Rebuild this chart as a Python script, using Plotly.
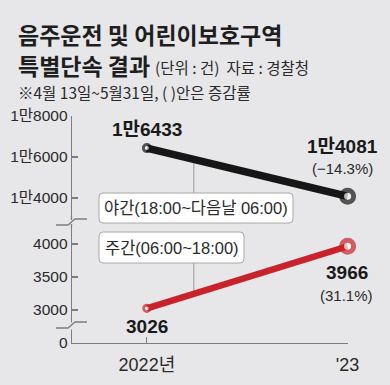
import plotly.graph_objects as go

# ---------------- data ----------------
years = [2022, 2023]
year_labels = ["2022년", "'23"]
night_values = [16433, 14081]          # 야간
day_values = [3026, 3966]              # 주간
night_labels = ["1만6433", "1만4081"]
day_labels = ["3026", "3966"]
night_change = "(−14.3%)"
day_change = "(31.1%)"
upper_ticks = [14000, 16000, 18000]
upper_ticktext = ["1만4000", "1만6000", "1만8000"]
lower_ticks = [2500, 3000, 3500, 4000]      # 2500 slot shows the broken-axis "0"
lower_ticktext = ["0", "3000", "3500", "4000"]

# ---------------- layout helpers ----------------
W, H = 390, 385
L, R, T, B = 72, 348, 100, 343
PW, PH = R - L, B - T
BG = "#e7e7e9"
AX = "#7d7d7d"
BLACK = "#161616"
RED = "#c8232b"
TXT = "#2a2a2a"
NUM = "Liberation Sans, Arial, Noto Sans CJK KR, sans-serif"
KR = "Noto Sans CJK KR, sans-serif"


def px(x):
    return (x - L) / PW


def py(y):
    return (B - y) / PH


up_dom = [py(216), py(116)]
up_rng = [18000 - (216 - 116) / 0.0205, 18000]
lo_dom = [0, py(227)]
lo_rng = [2500, 2500 + (343 - 227) / 0.066]

x_rng = [2022 - (147 - L) / (348 - 147), 2023.002]

fig = go.Figure()
fig.add_trace(go.Scatter(
    x=years, y=night_values, yaxis="y2", mode="lines+markers",
    line=dict(color=BLACK, width=7.5),
    marker=dict(size=[7, 12], color="white", line=dict(color=BLACK, width=[3, 5])),
    hoverinfo="skip", cliponaxis=False))
fig.add_trace(go.Scatter(
    x=years, y=day_values, yaxis="y", mode="lines+markers",
    line=dict(color=RED, width=6.5),
    marker=dict(size=[6.5, 12], color="white", line=dict(color=RED, width=[2.8, 5])),
    hoverinfo="skip", cliponaxis=False))

ann = []
# titles
ann.append(dict(xref="paper", yref="paper", x=px(16), y=py(34), xanchor="left", yanchor="middle",
                text="<b>음주운전 및 어린이보호구역</b>", showarrow=False,
                font=dict(family=KR, size=23, color="#1e1e1e", weight=900)))
ann.append(dict(xref="paper", yref="paper", x=px(16), y=py(65), xanchor="left", yanchor="middle",
                text="<b>특별단속 결과</b>", showarrow=False,
                font=dict(family=KR, size=23, color="#1e1e1e", weight=900)))
ann.append(dict(xref="paper", yref="paper", x=px(153), y=py(67), xanchor="left", yanchor="middle",
                text="(단위 : 건)  자료 : 경찰청", showarrow=False,
                font=dict(family=KR, size=15.5, color=TXT)))
ann.append(dict(xref="paper", yref="paper", x=px(16), y=py(92), xanchor="left", yanchor="middle",
                text="※4월 13일~5월31일, ( )안은 증감률", showarrow=False,
                font=dict(family=KR, size=15.5, color=TXT)))

# value labels
ann.append(dict(xref="x", yref="y2", x=years[0], y=night_values[0], yshift=19, xanchor="center",
                yanchor="middle", text="<b>" + night_labels[0] + "</b>", showarrow=False,
                font=dict(family=NUM, size=19, color="#1a1a1a")))
ann.append(dict(xref="x", yref="y2", x=years[1], y=night_values[1], yshift=50, xshift=-5,
                xanchor="center", yanchor="middle", text="<b>" + night_labels[1] + "</b>",
                showarrow=False, font=dict(family=NUM, size=19, color="#1a1a1a")))
ann.append(dict(xref="x", yref="y2", x=years[1], y=night_values[1], yshift=28, xshift=-5,
                xanchor="center", yanchor="middle", text=night_change,
                showarrow=False, font=dict(family=NUM, size=15, color=TXT)))
ann.append(dict(xref="x", yref="y", x=years[0], y=day_values[0], yshift=-18, xanchor="center",
                yanchor="middle", text="<b>" + day_labels[0] + "</b>", showarrow=False,
                font=dict(family=NUM, size=19, color="#1a1a1a")))
ann.append(dict(xref="x", yref="y", x=years[1], y=day_values[1], yshift=-26, xshift=-1,
                xanchor="center", yanchor="middle", text="<b>" + day_labels[1] + "</b>",
                showarrow=False, font=dict(family=NUM, size=19, color="#1a1a1a")))
ann.append(dict(xref="x", yref="y", x=years[1], y=day_values[1], yshift=-49, xshift=-1,
                xanchor="center", yanchor="middle", text=day_change,
                showarrow=False, font=dict(family=NUM, size=15, color=TXT)))

# series label boxes
boxes = [
    (99, 293, 193, 223, "야간(18:00~다음날 06:00)"),
    (99, 244, 232, 263, "주간(06:00~18:00)"),
]
shapes = []
for x0, x1, y0, y1, label in boxes:
    r = 4
    ax0, ax1 = px(x0), px(x1)
    ay0, ay1 = py(y1), py(y0)  # bottom, top in paper
    rx, ry = r / PW, r / PH
    path = (f"M {ax0 + rx},{ay1} L {ax1 - rx},{ay1} Q {ax1},{ay1} {ax1},{ay1 - ry} "
            f"L {ax1},{ay0 + ry} Q {ax1},{ay0} {ax1 - rx},{ay0} "
            f"L {ax0 + rx},{ay0} Q {ax0},{ay0} {ax0},{ay0 + ry} "
            f"L {ax0},{ay1 - ry} Q {ax0},{ay1} {ax0 + rx},{ay1} Z")
    shapes.append(dict(type="path", xref="paper", yref="paper", path=path,
                       fillcolor="white", line=dict(color="#a8a8a8", width=1), layer="above"))
    ann.append(dict(xref="paper", yref="paper", x=(ax0 + ax1) / 2, y=(ay0 + ay1) / 2,
                    xanchor="center", yanchor="middle", text=label, showarrow=False,
                    font=dict(family=NUM, size=16.5, color=TXT)))

# connector lines from series to label boxes
cx = 2022 + (194 - 147) / (348 - 147)
frac = (cx - years[0]) / (years[1] - years[0])
night_at = night_values[0] + frac * (night_values[1] - night_values[0])
day_at = day_values[0] + frac * (day_values[1] - day_values[0])
shapes.append(dict(type="line", xref="x", yref="y2", x0=cx, x1=cx, y0=night_at,
                   y1=18000 - (193 - 116) / 0.0205, line=dict(color="#9a9a9a", width=1), layer="below"))
shapes.append(dict(type="line", xref="x", yref="y", x0=cx, x1=cx, y0=day_at,
                   y1=2500 + (343 - 263) / 0.066, line=dict(color="#9a9a9a", width=1), layer="below"))

# axis break marks
shapes.append(dict(type="rect", xref="paper", yref="paper", x0=px(68), x1=px(76),
                   y0=py(329.5), y1=py(322.5), fillcolor=BG, line=dict(width=0), layer="above"))
for y_lo, y_hi in [(225, 219), (328, 322)]:
    path = (f"M {px(56)},{py(y_lo)} L {px(68)},{py(y_lo)} L {px(75)},{py(y_hi)} "
            f"L {px(87)},{py(y_hi)}")
    shapes.append(dict(type="path", xref="paper", yref="paper", path=path,
                       line=dict(color=AX, width=1.3), layer="above"))
# join axis segments to break marks
shapes.append(dict(type="line", xref="paper", yref="paper", x0=px(71.5), x1=px(71.5),
                   y0=py(216), y1=py(220), line=dict(color=AX, width=1.3)))
shapes.append(dict(type="line", xref="paper", yref="paper", x0=px(71.5), x1=px(71.5),
                   y0=py(224), y1=py(227), line=dict(color=AX, width=1.3)))

axis_common = dict(showgrid=False, zeroline=False, showline=True, linecolor=AX, linewidth=1.3,
                   ticks="inside", ticklen=6, tickwidth=1.2, tickcolor=AX, fixedrange=True,
                   automargin=False)

fig.update_layout(
    width=W, height=H,
    margin=dict(l=L, r=W - R, t=T, b=H - B, autoexpand=False),
    paper_bgcolor=BG, plot_bgcolor=BG,
    showlegend=False,
    xaxis=dict(range=x_rng, tickvals=years, ticktext=year_labels, anchor="y",
               ticklabelstandoff=5,
               tickfont=dict(family=NUM, size=18, color=TXT), **axis_common),
    yaxis=dict(domain=lo_dom, range=lo_rng, tickvals=lower_ticks, ticktext=lower_ticktext,
               anchor="x", tickfont=dict(family=NUM, size=15.5, color=TXT), **axis_common),
    yaxis2=dict(domain=up_dom, range=up_rng, tickvals=upper_ticks, ticktext=upper_ticktext,
                anchor="x", tickfont=dict(family=NUM, size=15.5, color=TXT), **axis_common),
    annotations=ann,
    shapes=shapes,
)

fig.write_html(
    "out.html",
    config={"displayModeBar": False, "staticPlot": True},
    post_script="document.body.style.margin='0';document.body.style.background='#e7e7e9';",
)
